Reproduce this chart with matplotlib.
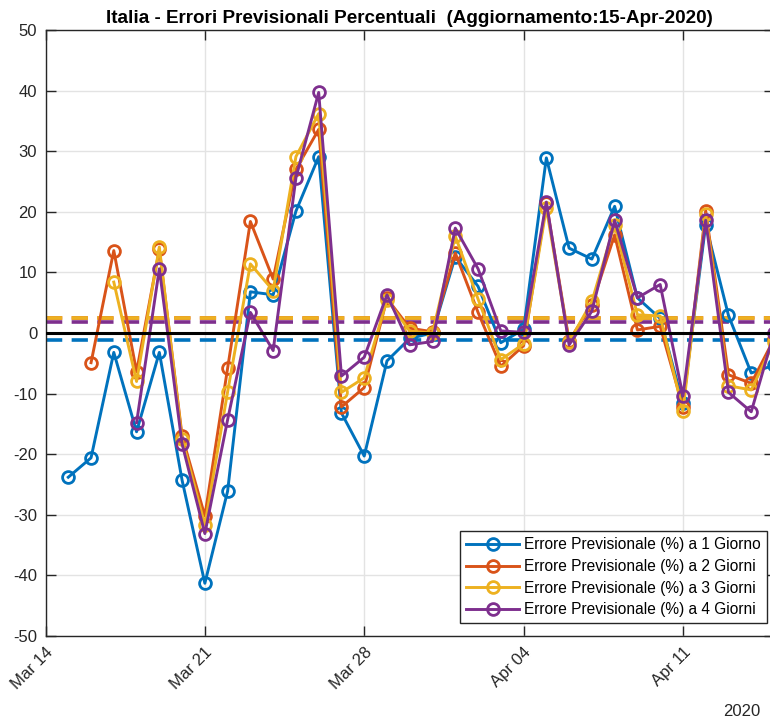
import numpy as np
import matplotlib
matplotlib.use("Agg")
import matplotlib.pyplot as plt
import matplotlib.dates as mdates

plt.rcParams['font.family'] = ['Liberation Sans', 'DejaVu Sans']
plt.rcParams['axes.unicode_minus'] = False

# giorni: dal 15 marzo al 15 aprile 2020
giorni = np.arange(np.datetime64('2020-03-15'), np.datetime64('2020-04-16'))
nan = np.nan

err_1g = [-23.8, -20.6, -3.2, -16.3, -3.2, -24.3, -41.3, -26.1, 6.8, 6.3, 20.1, 29.1,
          -13.2, -20.3, -4.6, -0.9, 0.0, 12.6, 7.7, -1.6, 0.6, 28.9, 14.0, 12.2, 20.9,
          5.8, 2.4, -11.6, 17.9, 2.9, -6.6, -5.3]
err_2g = [nan, -4.9, 13.6, -6.4, 13.8, -17.0, -30.2, -5.8, 18.4, 8.9, 27.0, 33.6,
          -12.2, -9.0, 5.7, 0.8, 0.2, 13.2, 3.4, -5.5, -2.1, 21.4, -1.3, 4.7, 16.2,
          0.5, 1.1, -12.2, 20.2, -6.9, -8.3, -1.0]
err_3g = [nan, nan, 8.4, -8.0, 14.2, -17.5, -31.7, -9.7, 11.4, 7.0, 29.1, 36.2,
          -9.8, -7.4, 5.5, 0.3, 0.0, 16.0, 5.6, -4.4, -1.8, 20.6, -1.5, 5.2, 17.9,
          3.0, 2.8, -12.9, 19.6, -8.7, -9.4, -1.5]
err_4g = [nan, nan, nan, -14.8, 10.6, -18.3, -33.1, -14.3, 3.4, -2.9, 25.6, 39.7,
          -7.1, -4.0, 6.3, -1.95, -1.4, 17.3, 10.6, 0.35, 0.1, 21.6, -1.95, 3.6, 18.6,
          5.8, 8.0, -10.4, 18.6, -9.8, -13.0, 0.0]

medie = [-1.1, 2.4, 2.45, 1.85]
etichette = ["Errore Previsionale (%) a 1 Giorno",
             "Errore Previsionale (%) a 2 Giorni",
             "Errore Previsionale (%) a 3 Giorni",
             "Errore Previsionale (%) a 4 Giorni"]
colori = ['#0072BD', '#D95319', '#EDB120', '#7E2F8E']
serie = [err_1g, err_2g, err_3g, err_4g]

fig = plt.figure(figsize=(7.7, 7.23), dpi=100)
ax = fig.add_axes([45.5 / 770, 87 / 723, (774 - 45.5) / 770, 606 / 723])

for dati, col, lab in zip(serie, colori, etichette):
    ax.plot(giorni, dati, '-o', color=col, lw=2.1, ms=8.5, mfc='none', mew=2,
            label=lab, zorder=3)

x0 = np.datetime64('2020-03-14')
x1 = np.datetime64('2020-04-15')
for m, col in zip(medie, colori):
    ax.plot([x0, x1], [m, m], '--', color=col, lw=2.6, dashes=(4.5, 2.6), zorder=2)
ax.plot([x0, x1], [0, 0], color='black', lw=2.2, zorder=4)

ax.set_xlim(x0, x1)
ax.set_ylim(-50, 50)
ax.set_yticks(np.arange(-50, 51, 10))
tick_date = [np.datetime64(d) for d in ['2020-03-14', '2020-03-21', '2020-03-28',
                                        '2020-04-04', '2020-04-11']]
ax.set_xticks(tick_date)
ax.xaxis.set_major_formatter(mdates.DateFormatter('%b %d'))
for t in ax.get_xticklabels():
    t.set_rotation(45)
    t.set_ha('right')
    t.set_rotation_mode('anchor')

ax.grid(True, color='#e3e3e3', lw=1)
ax.set_axisbelow(True)
ax.tick_params(direction='in', top=True, right=True, length=7, width=1,
               labelsize=12, colors='#262626', pad=6)
for s in ax.spines.values():
    s.set_color('#262626')
    s.set_linewidth(1)

ax.set_title("Italia - Errori Previsionali Percentuali  (Aggiornamento:15-Apr-2020)",
             fontsize=13.6, fontweight='bold', pad=5)

leg = ax.legend(loc='lower right', bbox_to_anchor=(0.99, 0.021), fontsize=11.2,
                fancybox=False, framealpha=1, edgecolor='#262626',
                handlelength=3.4, labelspacing=0.42, borderpad=0.4,
                handletextpad=0.3, borderaxespad=0)
leg.get_frame().set_linewidth(1)

fig.text(760 / 770, 1 - 712 / 723, "2020", ha='right', va='center',
         fontsize=12, color='#262626')

plt.savefig("out.png", dpi=100)
